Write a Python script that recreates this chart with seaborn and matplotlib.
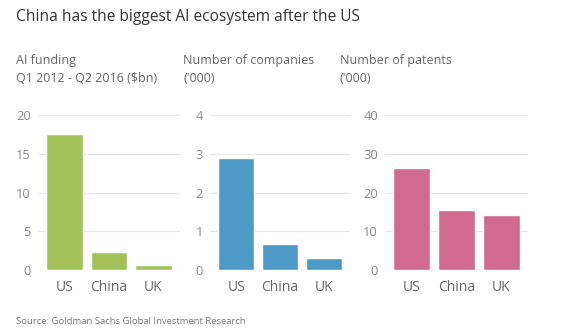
import matplotlib
matplotlib.use("Agg")
import matplotlib.pyplot as plt
import seaborn as sns
import pandas as pd

# Data
countries = ["US", "China", "UK"]
funding_bn = [17.6, 2.3, 0.6]          # AI funding Q1 2012 - Q2 2016 ($bn)
companies_k = [2.9, 0.67, 0.32]        # Number of companies ('000)
patents_k = [26.4, 15.4, 14.2]         # Number of patents ('000)

panel_titles = ["AI funding\nQ1 2012 - Q2 2016 ($bn)",
                "Number of companies\n('000)",
                "Number of patents\n('000)"]
y_ticks = [[0, 5, 10, 15, 20], [0, 1, 2, 3, 4], [0, 10, 20, 30, 40]]
colors = ["#a2c158", "#4d9ac6", "#d06b8f"]

sns.set_theme(style="white")
plt.rcParams["font.family"] = ["Open Sans", "DejaVu Sans"]

fig = plt.figure(figsize=(5.66, 3.28), dpi=100)
fig.patch.set_facecolor("white")

W, H = 566.0, 328.0
# axes extents in pixels: (left, right)
extents = [(38, 180), (210, 350), (385, 528)]
y_top_px, y_bot_px = 115, 270
title_x = [16, 183, 340]

series = [funding_bn, companies_k, patents_k]
grey = "#666666"
for i, (vals, ticks, col) in enumerate(zip(series, y_ticks, colors)):
    l, r = extents[i]
    ax = fig.add_axes([l / W, 1 - y_bot_px / H, (r - l) / W, (y_bot_px - y_top_px) / H])
    df = pd.DataFrame({"country": countries, "value": vals})
    sns.barplot(data=df, x="country", y="value", color=col, saturation=1,
                width=0.82, ax=ax, zorder=3)
    ax.set_xlim(-0.6, 2.6)
    ax.set_ylim(0, ticks[-1])
    ax.set_yticks(ticks)
    ax.set_xlabel("")
    ax.set_ylabel("")
    for s in ax.spines.values():
        s.set_visible(False)
    ax.grid(axis="y", color="#e6e6e6", linewidth=0.8, zorder=0)
    ax.axhline(0, color="#d0d0d0", linewidth=0.8, zorder=4)
    ax.tick_params(axis="y", length=0, pad=5, labelsize=9.3, labelcolor="#8a8a8a")
    ax.tick_params(axis="x", length=0, pad=7, labelsize=10, labelcolor=grey)
    ax.set_facecolor("none")
    fig.text(title_x[i] / W, 1 - 54 / H, panel_titles[i], ha="left", va="top",
             fontsize=9, color=grey, linespacing=1.45)

fig.text(16 / W, 1 - 17 / H, "China has the biggest AI ecosystem after the US",
         ha="left", va="center", fontsize=11.2, color="#333333")
fig.text(16 / W, 1 - 322 / H, "Source: Goldman Sachs Global Investment Research",
         ha="left", va="center", fontsize=6.8, color="#777777")

fig.savefig("out.png", dpi=100, facecolor="white")
